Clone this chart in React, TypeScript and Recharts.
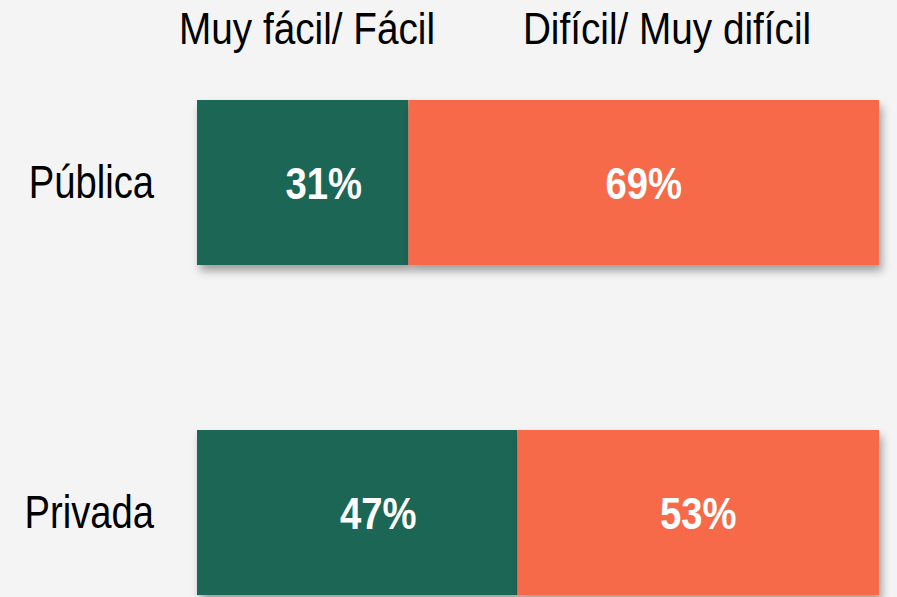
import React from 'react';
import { BarChart, Bar, XAxis, YAxis, LabelList } from 'recharts';

const categories = ['Pública', 'Privada'];
const facil = [0.31, 0.47];
const dificil = [0.69, 0.53];
const seriesNames = ['Muy fácil/ Fácil', 'Difícil/ Muy difícil'];

const GREEN = '#1d6657';
const ORANGE = '#f6694a';
const FONT = '"Liberation Sans", Arial, sans-serif';
const SQUEEZE = 0.83; // fake a narrow face, no Arial Narrow here

const data = categories.map((name, i) => ({ name, facil: facil[i], dificil: dificil[i] }));

const ShadowRect = (props: any) => {
  const { x, y, width, height, fill } = props;
  return <rect x={x} y={y} width={width} height={height} fill={fill} filter="url(#barShadow)" />;
};

const makeLabel = (dx: number) => (props: any) => {
  const { x, y, width, height, value } = props;
  return (
    <g transform={`translate(${x + width / 2 + dx},${y + height / 2}) scale(0.85,1)`}>
      <text
        x={0}
        y={16}
        textAnchor="middle"
        fill="#ffffff"
        fontFamily={FONT}
        fontWeight="bold"
        fontSize={45}
      >
        {`${Math.round(value * 100)}%`}
      </text>
    </g>
  );
};

const CategoryTick = (props: any) => {
  const { x, y, payload } = props;
  return (
    <g transform={`translate(${x},${y}) scale(${SQUEEZE},1)`}>
      <text x={0} y={16} textAnchor="end" fill="#000" fontFamily={FONT} fontSize={46}>
        {payload.value}
      </text>
    </g>
  );
};

const legendX = [307, 667];

const App: React.FC = () => {
  return (
    <div style={{ position: 'absolute', top: 0, left: 0, width: 897, height: 597, overflow: 'hidden', background: '#f4f4f4' }}>
      <svg width={897} height={60} style={{ position: 'absolute', top: 0, left: 0 }}>
        <defs>
          <filter id="barShadow" x="-5%" y="-5%" width="115%" height="130%">
            <feDropShadow dx={3} dy={6} stdDeviation={4} floodColor="#000" floodOpacity={0.35} />
          </filter>
        </defs>
        {seriesNames.map((s, i) => (
          <g key={s} transform={`translate(${legendX[i]},44) scale(0.88,1)`}>
            <text x={0} y={0} textAnchor="middle" fill="#000" fontFamily={FONT} fontSize={44}>
              {s}
            </text>
          </g>
        ))}
      </svg>
      <BarChart
        width={897}
        height={677}
        data={data}
        layout="vertical"
        margin={{ top: 17, right: 18, left: 0, bottom: 0 }}
        barCategoryGap={0}
        barSize={165}
      >
        <XAxis type="number" domain={[0, 1]} hide />
        <YAxis
          type="category"
          dataKey="name"
          width={197}
          axisLine={false}
          tickLine={false}
          tickSize={0}
          tickMargin={43}
          tick={<CategoryTick />}
        />
        <Bar dataKey="facil" stackId="a" fill={GREEN} shape={ShadowRect} isAnimationActive={false}>
          <LabelList dataKey="facil" content={makeLabel(21)} />
        </Bar>
        <Bar dataKey="dificil" stackId="a" fill={ORANGE} shape={ShadowRect} isAnimationActive={false}>
          <LabelList dataKey="dificil" content={makeLabel(0)} />
        </Bar>
      </BarChart>
    </div>
  );
};

export default App;
